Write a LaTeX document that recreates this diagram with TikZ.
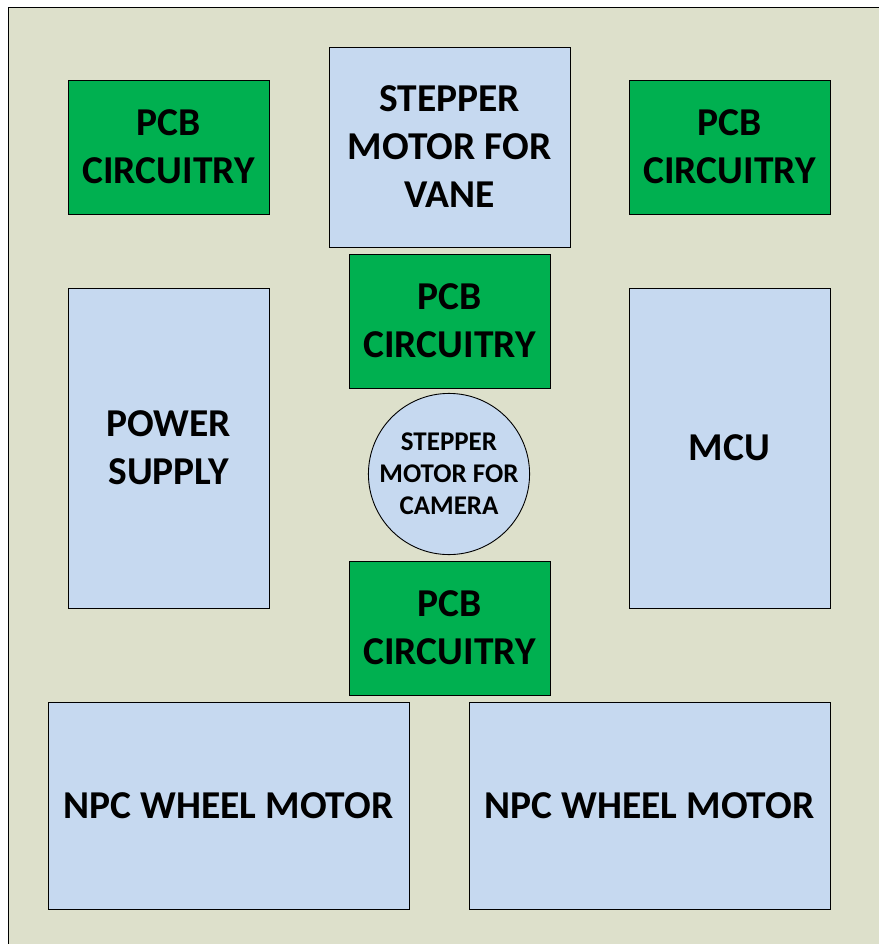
\documentclass[tikz,border=0pt]{standalone}
\usepackage{fontspec}
\setmainfont{Carlito}

\definecolor{bgolive}{RGB}{221,224,203}
\definecolor{pcbgreen}{RGB}{0,176,80}
\definecolor{partblue}{RGB}{198,217,240}

\tikzset{
  pcbbox/.style={draw, fill=pcbgreen, line width=0.9pt, inner sep=0pt,
    minimum width=201pt, minimum height=134pt},
  partbox/.style={draw, fill=partblue, line width=0.9pt, inner sep=0pt}
}

\begin{document}
\begin{tikzpicture}[x=1pt, y=-1pt, font=\bfseries\fontsize{39.5}{48}\selectfont,
    every node/.style={align=center}]
        \useasboundingbox (0,0) rectangle (878,944);
        \draw[fill=bgolive, line width=0.9pt] (8,7) rectangle (900,970);

        % top row
        \node[pcbbox] (pcbleft) at (168.5,147) {PCB\\CIRCUITRY};
        \node[partbox, minimum width=241pt, minimum height=200pt] (vane) at (449.5,147) {STEPPER\\MOTOR FOR\\VANE};
        \node[pcbbox] (pcbright) at (729.5,147) {PCB\\CIRCUITRY};

        % middle column
        \node[pcbbox] (pcbupper) at (449.5,321) {PCB\\CIRCUITRY};
        \node[partbox, circle, minimum size=160pt, font=\bfseries\fontsize{27}{32}\selectfont] (camera) at (449,474) {STEPPER\\MOTOR FOR\\CAMERA};
        \node[pcbbox] (pcblower) at (449.5,628) {PCB\\CIRCUITRY};

        % side blocks
        \node[partbox, minimum width=201pt, minimum height=320pt] (power) at (168.5,448) {POWER\\SUPPLY};
        \node[partbox, minimum width=201pt, minimum height=320pt] (mcu) at (729.5,448) {MCU};

        % wheel motors
        \node[partbox, minimum width=361pt, minimum height=207pt] (wheelleft) at (228.5,805.5) {NPC WHEEL MOTOR};
        \node[partbox, minimum width=361pt, minimum height=207pt] (wheelright) at (649.5,805.5) {NPC WHEEL MOTOR};
    \end{tikzpicture}
\end{document}
